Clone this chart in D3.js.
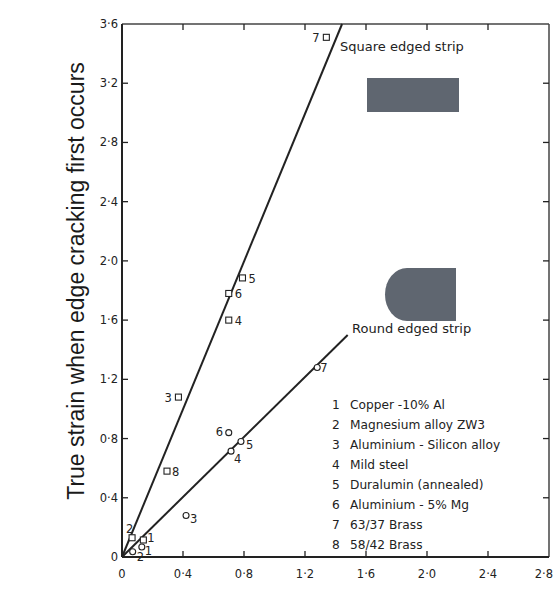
<!DOCTYPE html>
<html>
<head>
<meta charset="utf-8">
<script src="https://cdn.jsdelivr.net/npm/d3@7"></script>
<style>
  body { margin: 0; background: #fff; }
  .tick-label { font-family: "DejaVu Sans", sans-serif; font-size: 11.5px; fill: #222; }
  .pt-label { font-family: "DejaVu Sans", sans-serif; font-size: 11.5px; fill: #222; }
  .note-label { font-family: "DejaVu Sans", sans-serif; font-size: 13px; fill: #222; }
  .legend-label { font-family: "DejaVu Sans", sans-serif; font-size: 12.2px; fill: #222; }
</style>
</head>
<body>
<div id="chart"></div>
<script>
// Data
var xTicks = [0, 0.4, 0.8, 1.2, 1.6, 2.0, 2.4, 2.8];
var yTicks = [0, 0.4, 0.8, 1.2, 1.6, 2.0, 2.4, 2.8, 3.2, 3.6];
var xTickLabels = ["0", "0·4", "0·8", "1·2", "1·6", "2·0", "2·4", "2·8"];
var yTickLabels = ["0", "0·4", "0·8", "1·2", "1·6", "2·0", "2·4", "2·8", "3·2", "3·6"];

// square edged strip points (material id, x, y)
var squareIds = [1, 2, 3, 4, 5, 6, 7, 8];
var squareX = [0.14, 0.066, 0.37, 0.70, 0.79, 0.70, 1.34, 0.295];
var squareY = [0.115, 0.13, 1.08, 1.60, 1.885, 1.78, 3.51, 0.58];

// round edged strip points
var roundIds = [1, 2, 3, 4, 5, 6, 7];
var roundX = [0.13, 0.07, 0.42, 0.715, 0.78, 0.70, 1.28];
var roundY = [0.068, 0.035, 0.28, 0.715, 0.78, 0.84, 1.28];

// fitted lines
var squareLine = [[0, 0], [1.443, 3.6]];
var roundLine = [[0, 0], [1.48, 1.5]];

var materials = [
  "Copper -10% Al",
  "Magnesium alloy ZW3",
  "Aluminium - Silicon alloy",
  "Mild steel",
  "Duralumin (annealed)",
  "Aluminium - 5% Mg",
  "63/37 Brass",
  "58/42 Brass"
];

var yTitle = "True strain when edge cracking first occurs";

// --> CREATE SVG DRAWING AREA
var width = 554,
    height = 590;

var svg = d3.select("#chart").append("svg")
    .attr("width", width)
    .attr("height", height);

var x = d3.scaleLinear().domain([0, 2.8]).range([122, 549]);
var y = d3.scaleLinear().domain([0, 3.6]).range([557, 24]);

var ink = "#222";

// frame: top and right
svg.append("line").attr("x1", x(0)).attr("x2", x(2.8)).attr("y1", y(3.6)).attr("y2", y(3.6))
    .attr("stroke", "#444").attr("stroke-width", 1.5);
svg.append("line").attr("x1", x(2.8)).attr("x2", x(2.8)).attr("y1", y(3.6)).attr("y2", y(0))
    .attr("stroke", "#444").attr("stroke-width", 1.5);

// inward ticks on all four sides
var tickLen = 6;
svg.selectAll(".xtick-b").data(xTicks.slice(1, -1)).enter().append("line")
    .attr("x1", function(d) { return x(d); }).attr("x2", function(d) { return x(d); })
    .attr("y1", y(0)).attr("y2", y(0) - tickLen)
    .attr("stroke", ink).attr("stroke-width", 1.3);
svg.selectAll(".xtick-t").data(xTicks.slice(1, -1)).enter().append("line")
    .attr("x1", function(d) { return x(d); }).attr("x2", function(d) { return x(d); })
    .attr("y1", y(3.6)).attr("y2", y(3.6) + tickLen)
    .attr("stroke", ink).attr("stroke-width", 1.3);
svg.selectAll(".ytick-l").data(yTicks.slice(1, -1)).enter().append("line")
    .attr("x1", x(0)).attr("x2", x(0) + tickLen)
    .attr("y1", function(d) { return y(d); }).attr("y2", function(d) { return y(d); })
    .attr("stroke", ink).attr("stroke-width", 1.3);
svg.selectAll(".ytick-r").data(yTicks.slice(1, -1)).enter().append("line")
    .attr("x1", x(2.8)).attr("x2", x(2.8) - tickLen)
    .attr("y1", function(d) { return y(d); }).attr("y2", function(d) { return y(d); })
    .attr("stroke", ink).attr("stroke-width", 1.3);

// left and bottom axes (heavier)
svg.append("line").attr("x1", x(0)).attr("x2", x(0)).attr("y1", y(3.6)).attr("y2", y(0))
    .attr("stroke", ink).attr("stroke-width", 2);
svg.append("line").attr("x1", x(0)).attr("x2", x(2.8)).attr("y1", y(0)).attr("y2", y(0))
    .attr("stroke", ink).attr("stroke-width", 2);

// tick labels (last one kept inside the page)
svg.selectAll(".xlab").data(xTicks).enter().append("text")
    .attr("class", "tick-label")
    .attr("x", function(d, i) { return i == xTicks.length - 1 ? width - 1 : x(d); })
    .attr("y", y(0) + 21)
    .attr("text-anchor", function(d, i) { return i == xTicks.length - 1 ? "end" : "middle"; })
    .text(function(d, i) { return xTickLabels[i]; });

svg.selectAll(".ylab").data(yTicks).enter().append("text")
    .attr("class", "tick-label")
    .attr("x", x(0) - 4)
    .attr("y", function(d) { return y(d) + 4; })
    .attr("text-anchor", "end")
    .text(function(d, i) { return yTickLabels[i]; });

// y axis title
svg.append("text")
    .attr("transform", "translate(84," + 281 + ") rotate(-90)")
    .attr("text-anchor", "middle")
    .style("font-family", "'Liberation Sans', Arial, sans-serif")
    .style("font-size", "23px")
    .style("fill", "#1a1a1a")
    .text(yTitle);

// fitted lines
var line = d3.line()
    .x(function(d) { return x(d[0]); })
    .y(function(d) { return y(d[1]); });

svg.append("path").datum(squareLine).attr("d", line)
    .attr("fill", "none").attr("stroke", ink).attr("stroke-width", 2);
svg.append("path").datum(roundLine).attr("d", line)
    .attr("fill", "none").attr("stroke", ink).attr("stroke-width", 2);

// point label offsets [dx, dy]
var squareOffsets = {1: [4, -2], 2: [-6, -9], 3: [-14, 1], 4: [6, 1], 5: [6, 1], 6: [6, 1], 7: [-14, 1], 8: [5, 1]};
var roundOffsets = {1: [3, 4], 2: [4, 5], 3: [4, 3], 4: [3, 8], 5: [5, 3], 6: [-13, -1], 7: [3, 1]};

var squarePts = squareIds.map(function(id, i) { return {id: id, x: squareX[i], y: squareY[i]}; });
var roundPts = roundIds.map(function(id, i) { return {id: id, x: roundX[i], y: roundY[i]}; });

svg.selectAll(".sq").data(squarePts).enter().append("rect")
    .attr("x", function(d) { return x(d.x) - 3; })
    .attr("y", function(d) { return y(d.y) - 3; })
    .attr("width", 6).attr("height", 6)
    .attr("fill", "#fff").attr("stroke", ink).attr("stroke-width", 1.1);

svg.selectAll(".sq-label").data(squarePts).enter().append("text")
    .attr("class", "pt-label")
    .attr("x", function(d) { return x(d.x) + squareOffsets[d.id][0]; })
    .attr("y", function(d) { return y(d.y) + squareOffsets[d.id][1] + 4; })
    .text(function(d) { return d.id; });

svg.selectAll(".rd").data(roundPts).enter().append("circle")
    .attr("cx", function(d) { return x(d.x); })
    .attr("cy", function(d) { return y(d.y); })
    .attr("r", 3)
    .attr("fill", "#fff").attr("stroke", ink).attr("stroke-width", 1.1);

svg.selectAll(".rd-label").data(roundPts).enter().append("text")
    .attr("class", "pt-label")
    .attr("x", function(d) { return x(d.x) + roundOffsets[d.id][0]; })
    .attr("y", function(d) { return y(d.y) + roundOffsets[d.id][1] + 4; })
    .text(function(d) { return d.id; });

// annotations
svg.append("text").attr("class", "note-label")
    .attr("x", 340).attr("y", 51)
    .text("Square edged strip");
svg.append("text").attr("class", "note-label")
    .attr("x", 352).attr("y", 333)
    .text("Round edged strip");

// strip cross sections
var grey = "#5f6670";
svg.append("rect")
    .attr("x", 367).attr("y", 78).attr("width", 92).attr("height", 34)
    .attr("fill", grey);

svg.append("path")
    .attr("d", "M456,268 L407,268 A22,26.5 0 0 0 407,321 L456,321 Z")
    .attr("fill", grey);

// legend
svg.selectAll(".leg-num").data(materials).enter().append("text")
    .attr("class", "legend-label")
    .attr("x", 336)
    .attr("y", function(d, i) { return 409 + i * 20; })
    .attr("text-anchor", "middle")
    .text(function(d, i) { return i + 1; });

svg.selectAll(".leg-name").data(materials).enter().append("text")
    .attr("class", "legend-label")
    .attr("x", 350)
    .attr("y", function(d, i) { return 409 + i * 20; })
    .text(function(d) { return d; });
</script>
</body>
</html>
